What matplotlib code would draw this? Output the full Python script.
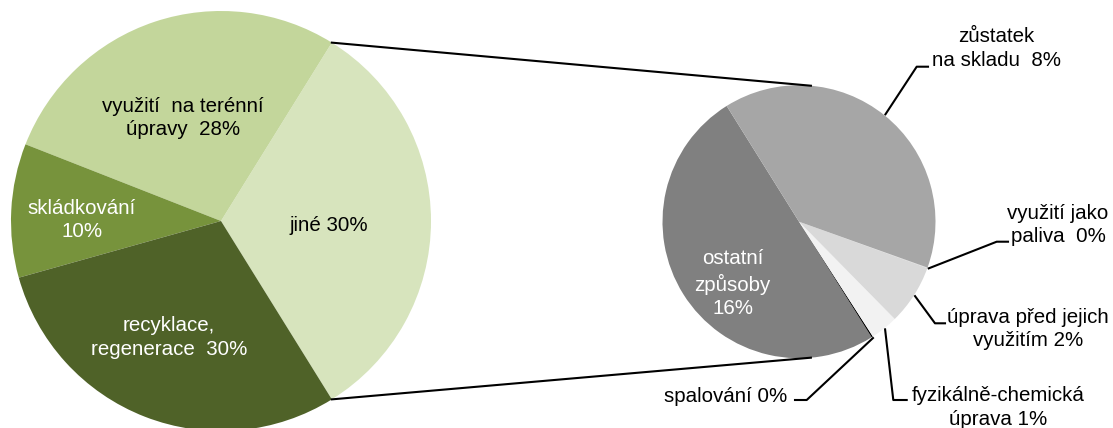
import numpy as np
import matplotlib.pyplot as plt

plt.rcParams["font.family"] = ["Liberation Sans", "DejaVu Sans"]
plt.rcParams["font.size"] = 14.8

# hlavní koláč (podíly v %)
hlavni_popisky = ["jiné 30%", "využití  na terénní\núpravy  28%", "skládkování\n10%",
                  "recyklace,\nregenerace  30%"]
hlavni_hodnoty = [32.3, 27.9, 10.3, 29.5]
hlavni_barvy = ["#d7e4bd", "#c3d69b", "#77933c", "#4f6228"]
hlavni_barvy_textu = ["black", "black", "white", "white"]

# rozpad položky "jiné" (pořadí proti směru hodinových ručiček)
jine_popisky = ["ostatní\nzpůsoby\n16%", "spalování 0%", "fyzikálně-chemická\núprava 1%",
                "úprava před jejich\nvyužitím 2%", "využití jako\npaliva  0%",
                "zůstatek\nna skladu  8%"]
jine_hodnoty = [16.2, 0.055, 1.06, 2.30, 0.02, 12.74]
jine_barvy = ["#808080", "#000000", "#f2f2f2", "#d9d9d9", "#d9d9d9", "#a6a6a6"]

W, H = 1113, 428
fig = plt.figure(figsize=(W / 100, H / 100), dpi=100)
ax = fig.add_axes([0, 0, 1, 1])

c1, r1 = (221, 207), 210
c2, r2 = (799, 206.3), 136.5

podil_jine = hlavni_hodnoty[0] / sum(hlavni_hodnoty) * 360
w1, _ = ax.pie(hlavni_hodnoty, colors=hlavni_barvy, startangle=-podil_jine / 2,
               center=c1, radius=r1, wedgeprops=dict(linewidth=0), frame=True)
w2, _ = ax.pie(jine_hodnoty, colors=jine_barvy, startangle=122,
               center=c2, radius=r2, wedgeprops=dict(linewidth=0), frame=True)


def bod(c, r, uhel):
    a = np.deg2rad(uhel)
    return c[0] + r * np.cos(a), c[1] + r * np.sin(a)


# spojnice mezi koláči
for u1, u2 in [(w1[0].theta2, 85), (w1[0].theta1, -85)]:
    x1, y1 = bod(c1, r1, u1)
    x2, y2 = bod(c2, r2, u2)
    ax.plot([x1, x2], [y1, y2], color="black", lw=1.5)

LS = 1.3

# popisky v hlavním koláči
pozice_hlavni = [(329, 203), (183, 310), (82, 208), (169, 90.5)]
for txt, (x, y), barva in zip(hlavni_popisky, pozice_hlavni, hlavni_barvy_textu):
    ax.text(x, y, txt, ha="center", va="center", color=barva, multialignment="center",
            linespacing=LS)

ax.text(732.5, 144.3, jine_popisky[0], ha="center", va="center", color="white",
        multialignment="center", linespacing=LS)

# vynášecí čáry a popisky vedlejšího koláče
zlomy = {1: ((806.7, 28), (795, 28)), 2: ((893.3, 28), (906.7, 28)),
         3: ((935, 104.7), (945, 104.7)), 4: ((996.7, 186.3), (1008, 186.3)),
         5: ((916.7, 361.3), (928, 361.3))}
pozice_textu = {1: (787, 31.3, "right"), 2: (998, 20.5, "center"), 3: (1028, 99, "center"),
                4: (1058, 203, "center"), 5: (996, 379.5, "center")}
for i, (zlom, konec) in zlomy.items():
    stred = (w2[i].theta1 + w2[i].theta2) / 2
    x0, y0 = bod(c2, r2 * 1.01, stred)
    ax.plot([x0, zlom[0], konec[0]], [y0, zlom[1], konec[1]], color="black", lw=1.5)
    x, y, zarovnani = pozice_textu[i]
    ax.text(x, y, jine_popisky[i], ha=zarovnani, va="center", multialignment="center",
            linespacing=LS)

ax.set_xlim(0, W)
ax.set_ylim(0, H)
ax.set_aspect("equal")
ax.axis("off")
fig.savefig("out.png", dpi=100)
